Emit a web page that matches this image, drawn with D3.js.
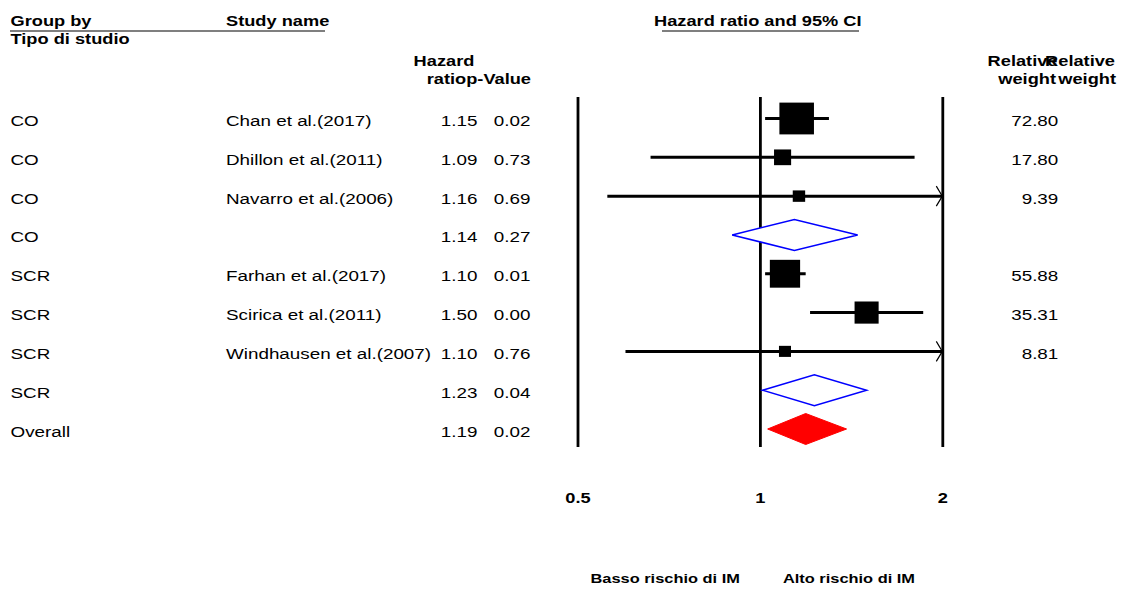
<!DOCTYPE html>
<html><head><meta charset="utf-8">
<script src="https://cdn.jsdelivr.net/npm/d3@7/dist/d3.min.js"></script>
<style>
html,body{margin:0;padding:0;background:#fff;}
svg{display:block;font-family:"Liberation Sans",Arial,sans-serif;}
</style></head>
<body>
<svg id="chart" width="1124" height="597"></svg>
<script>
// ---- data ----
const groups = ["CO","CO","CO","CO","SCR","SCR","SCR","SCR","Overall"];
const studies = ["Chan et al.(2017)","Dhillon et al.(2011)","Navarro et al.(2006)","","Farhan et al.(2017)","Scirica et al.(2011)","Windhausen et al.(2007)","",""];
const hazardRatio = [1.15,1.09,1.16,1.14,1.10,1.50,1.10,1.23,1.19];
const lowerCI = [1.02,0.66,0.56,0.90,1.02,1.21,0.60,1.01,1.03];
const upperCI = [1.30,1.80,2.40,1.45,1.19,1.86,2.02,1.50,1.39];
const pValues = ["0.02","0.73","0.69","0.27","0.01","0.00","0.76","0.04","0.02"];
const weights = [72.80,17.80,9.39,null,55.88,35.31,8.81,null,null];
const rowType = ["study","study","study","subtotal","study","study","study","subtotal","overall"];
const tickValues = [0.5,1,2];
const tickLabels = ["0.5","1","2"];
const leftLabel = "Basso rischio di IM";
const rightLabel = "Alto rischio di IM";

// ---- layout ----
const SX = 1.215;
const svg = d3.select("#chart");
const x = d3.scaleLog().base(2).domain([0.5,2]).range([577.5,942.3]);
const y = d3.scaleLinear().domain([0,8]).range([118.5,429]);
const boxW = d3.scaleSqrt().domain([0,100]).range([0,40.5]);
const plotTop = 97, plotBottom = 447;

function txt(g, px, py, s, o={}){
  return g.append("text")
    .attr("transform",`translate(${px},${py}) scale(${SX},1)`)
    .attr("text-anchor", o.anchor||"start")
    .attr("font-size", o.size||15.5)
    .attr("font-weight", o.bold?"bold":"normal")
    .attr("fill","#000")
    .text(s);
}

// headers
const H = svg.append("g");
txt(H,10.5,25.5,"Group by",{bold:true,size:15});
txt(H,226,25.5,"Study name",{bold:true,size:15});
txt(H,10.5,44,"Tipo di studio",{bold:true,size:15});
H.append("line").attr("x1",10).attr("x2",325).attr("y1",31).attr("y2",31).attr("stroke","#555").attr("stroke-width",1.5);
txt(H,654,25.5,"Hazard ratio and 95% CI",{bold:true,size:15});
H.append("line").attr("x1",662).attr("x2",859).attr("y1",31).attr("y2",31).attr("stroke","#555").attr("stroke-width",1.5);
txt(H,444,65.5,"Hazard",{bold:true,size:15,anchor:"middle"});
txt(H,446.5,84,"ratio",{bold:true,size:15,anchor:"middle"});
txt(H,531,84,"p-Value",{bold:true,size:15,anchor:"end"});
txt(H,1057.5,65.5,"Relative",{bold:true,size:15,anchor:"end"});
txt(H,1056,84,"weight",{bold:true,size:15,anchor:"end"});
txt(H,1115,65.5,"Relative",{bold:true,size:15,anchor:"end"});
txt(H,1116,84,"weight",{bold:true,size:15,anchor:"end"});

// axis with full-height tick lines
const axis = d3.axisBottom(x).tickValues(tickValues)
  .tickFormat((d,i)=>tickLabels[i])
  .tickSizeInner(-(plotBottom-plotTop)).tickSizeOuter(0).tickPadding(45);
const ax = svg.append("g").attr("transform",`translate(0,${plotBottom})`).call(axis);
ax.select(".domain").remove();
ax.selectAll(".tick line").attr("stroke","#000").attr("stroke-width",2.8);
ax.selectAll(".tick text").attr("font-size",15).attr("font-weight","bold")
  .attr("font-family","'Liberation Sans',Arial,sans-serif").attr("fill","#000")
  .attr("transform",`scale(${SX},1)`);

// bottom labels
txt(svg,x(1)-20,583,leftLabel,{bold:true,size:13.5,anchor:"end"});
txt(svg,x(1)+23,583,rightLabel,{bold:true,size:13.5});

// rows
const rows = d3.range(groups.length);
const T = svg.append("g");
rows.forEach(i=>{
  const yy = y(i)+7.5;
  txt(T,10.5,yy,groups[i]);
  if(studies[i]) txt(T,226,yy,studies[i]);
  txt(T,477.5,yy,hazardRatio[i].toFixed(2),{anchor:"end"});
  txt(T,530.5,yy,pValues[i],{anchor:"end"});
  if(weights[i]!=null) txt(T,1058.3,yy,weights[i].toFixed(2),{anchor:"end"});
});

// markers
const M = svg.append("g");
const [xmin,xmax] = x.range();
rows.filter(i=>rowType[i]==="study").forEach(i=>{
  const yy = y(i);
  const x1 = Math.max(xmin,x(lowerCI[i])), x2 = Math.min(xmax,x(upperCI[i]));
  M.append("line").attr("x1",x1).attr("x2",x2).attr("y1",yy).attr("y2",yy)
    .attr("stroke","#000").attr("stroke-width",3);
  if(x(upperCI[i])>xmax){
    M.append("path").attr("d",`M${xmax-6},${yy-10}L${xmax},${yy}L${xmax-6},${yy+10}`)
      .attr("fill","none").attr("stroke","#000").attr("stroke-width",1.2);
  }
  const w = boxW(weights[i]), h = w*0.92;
  M.append("rect").attr("x",x(hazardRatio[i])-w/2).attr("y",yy-h/2)
    .attr("width",w).attr("height",h).attr("fill","#000");
});
rows.filter(i=>rowType[i]!=="study").forEach(i=>{
  const yy = y(i), hh = 15.5;
  const pts = [[x(lowerCI[i]),yy],[x(hazardRatio[i]),yy-hh],[x(upperCI[i]),yy],[x(hazardRatio[i]),yy+hh]];
  const overall = rowType[i]==="overall";
  M.append("path").attr("d","M"+pts.map(p=>p.join(",")).join("L")+"Z")
    .attr("fill",overall?"#ff0000":"#fff")
    .attr("stroke",overall?"#ff0000":"#0000ff")
    .attr("stroke-width",overall?1:1.5);
});
</script>
</body></html>
